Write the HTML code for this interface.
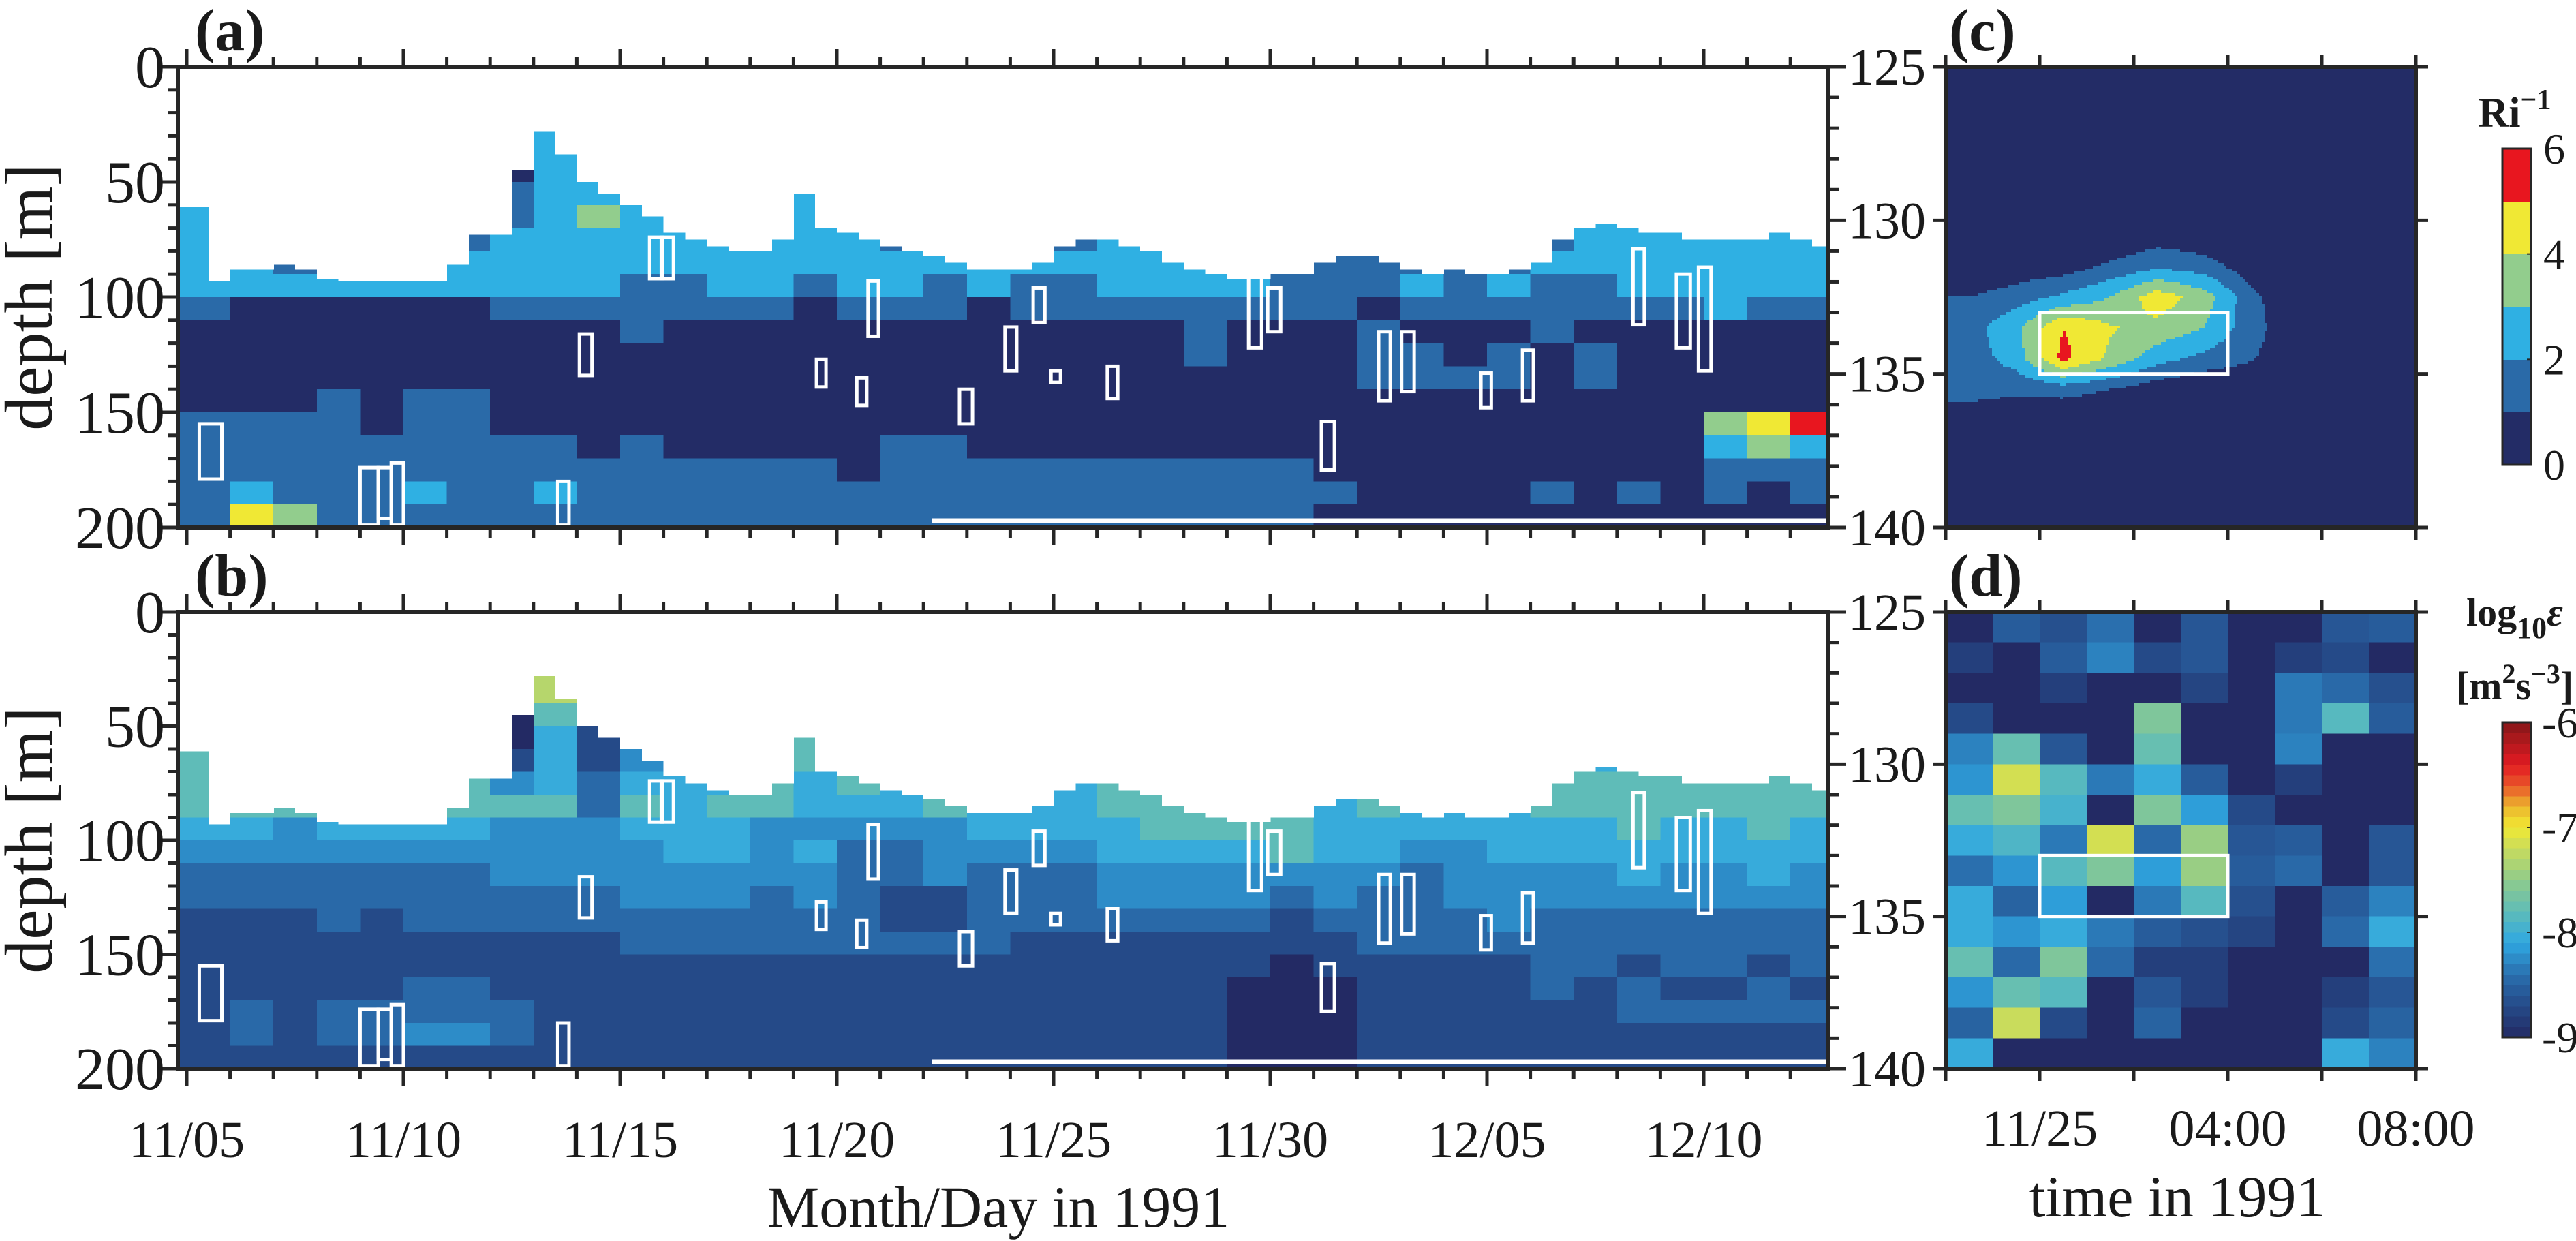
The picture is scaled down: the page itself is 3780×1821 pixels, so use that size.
<!DOCTYPE html>
<html><head><meta charset="utf-8"><style>
html,body{margin:0;padding:0;background:#fff;}
svg{display:block;font-family:"Liberation Serif",serif;}
</style></head><body>
<svg id="fig" xmlns="http://www.w3.org/2000/svg" width="3780" height="1821" viewBox="0 0 3780 1821"></svg>
<script>
// ---------- DATA ----------
// Panel (a): Ri^-1 band index (0..5) per day column (Nov05..Dec12) x 10 m depth rows (0..200 m)
const riRows = [
"00000000000000000000000000000000000000",
"00000000000000000000000000000000000000",
"00000000210000100000000000000000000001",
"00000000221000100000000000000000000001",
"00000000222100100000000000000000000001",
"10000001222110200000000000000000110011",
"21000001232210210000000000000001222121",
"22111112222222221111122211000001222222",
"22122222222222222222222222111112222222",
"22222222221122122121122221112121122222",
"10000001111111011101111111101111111211",
"00000000001000000000000100010001000000",
"00000000000000000000000100011010100000",
"00000000000000000000000000011110100000",
"00010110000000000000000000000000000000",
"11110110000000000000000000000000000345",
"11111111101000001100000000000000000232",
"11111111111111101111111111000000000111",
"12111211211111111111111111100001010101",
"14311111111111111111111111000000000000"];
// Panel (b): log10(epsilon) class per day x 10 m (decoded with epsClassValue)
const epsRows = [
"00000000000000000000000000000000000000",
"00000000500000000000000000000000000000",
"00000000632000400000000000000000000003",
"00000000613000500000000000000000000003",
"00000000512300400000000000000000000004",
"40000000412344530000000000000000440044",
"55000001413444544000000000000004454545",
"55454453424445454444454544000015555555",
"55555555525455444544455555454445555555",
"44344443334443333344445555444444454454",
"33333333333443422333344445443344444444",
"22222223333333322322233333332333343343",
"22222222223332321122233332322333333333",
"11121222222222221122222221222232222222",
"11111111112222222221111111122222222222",
"11111111111111111111111110111112212212",
"11111221111111111111111100011112121121",
"12122222111111111111111100011111122222",
"12122332111111111111111100011111111111",
"11111111111111111111111100011111111111"];
const epsClassValue = [-9.0,-8.7,-8.45,-8.25,-8.05,-7.8,-7.3,-7.0,-6.6,-6.3];
// Upper edge of data coverage (m), every half day from Nov 05 00:00
const coverTop = [61,93,88,88,86,88,92,93,93,93,93,93,86,73,73,45,28,38,50,55,60,65,72,75,78,80,80,75,55,70,72,75,78,80,82,85,88,88,88,85,78,75,75,78,80,85,88,90,92,92,90,90,
85,82,82,85,88,90,88,90,90,88,85,75,70,68,70,72,72,75,75,75,75,72,75,78];
// Event boxes: start day, end day (days after Nov 05), top depth, bottom depth
const boxStart = [0.29,4.0,4.42,4.72,8.56,9.06,10.68,10.95,14.53,15.46,15.72,17.83,18.88,19.53,19.94,21.24,24.5,24.94,26.18,27.5,28.03,29.86,30.82,33.37,34.37,34.88];
const boxEnd   = [0.81,4.42,4.72,5.0,8.82,9.35,10.98,11.23,14.75,15.69,15.96,18.13,19.15,19.8,20.16,21.48,24.8,25.24,26.48,27.77,28.32,30.1,31.07,33.63,34.69,35.17];
const boxTop   = [155,174,174,172,180,116,74,74,127,135,93,140,113,96,132,130,86,96,154,115,115,133,123,79,90,87];
const boxBot   = [179,199,196,199,199,134,92,92,139,147,117,155,132,111,137,144,122,115,175,145,141,148,145,112,122,132];
const dateLabels = ["11/05","11/10","11/15","11/20","11/25","11/30","12/05","12/10"];
const dateLabelDays = [0,5,10,15,20,25,30,35];
const depthLabels = [0,50,100,150,200];
const zoomDepthLabels = [125,130,135,140];
// Panel (c): Ri^-1 at hourly x 1 m nodes (hours from 22:00, depths 125.5..139.5)
const riZoom = [
[0,0,0,0,0,0,0,0,0,0],[0,0,0,0,0,0,0,0,0,0],[0,0,0,0,0,0,0,0,0,0],
[0,0,0,0,0,0,0,0,0,0],[0,0,0,0,0,0,0,0,0,0],
[0,0,0,0,0.5,0.2,0,0,0,0],
[0,0.3,0.5,1.2,1.8,1.5,0.4,0,0,0],
[1.0,1.5,2.2,3.0,4.6,3.5,1.3,0,0,0],
[1.6,2.8,5.0,4.1,3.7,3.0,1.4,0.2,0,0],
[1.4,2.5,5.3,3.8,2.4,1.7,1.1,0.2,0,0],
[1.3,1.2,1.4,1.0,0.4,0,0,0,0,0],
[0.6,0.3,0,0,0,0,0,0,0,0],
[0,0,0,0,0,0,0,0,0,0],[0,0,0,0,0,0,0,0,0,0],[0,0,0,0,0,0,0,0,0,0]];
// Panel (d): log10 epsilon per hour x 1 m cell
const N=-9.0;
const epsZoom = [
[N,-8.55,-8.65,-8.4,N,-8.6,N,N,-8.6,-8.55],
[-8.8,N,-8.55,-8.3,-8.7,-8.6,N,-8.8,-8.7,N],
[N,N,-8.8,N,N,-8.75,N,-8.35,-8.45,-8.65],
[-8.7,N,N,N,-7.6,N,N,-8.35,-7.85,-8.55],
[-8.3,-7.75,-8.6,N,-7.75,N,N,-8.3,N,N],
[-8.2,-7.15,-7.85,-8.35,-8.05,-8.55,N,-8.8,N,N],
[-7.75,-7.6,-7.95,N,-7.6,-8.15,-8.7,N,N,N],
[-8.05,-7.9,-8.35,-7.15,-8.45,-7.45,-8.6,-8.55,N,-8.6],
[-8.4,-8.2,-7.85,-7.6,-8.15,-7.45,-8.55,-8.45,N,-8.6],
[-8.05,-8.5,-8.15,N,-8.35,-7.85,-8.65,N,-8.55,-8.3],
[-8.05,-8.2,-8.05,-8.35,-8.55,-8.65,-8.75,N,-8.45,-8.05],
[-7.75,-8.45,-7.6,-8.45,-8.8,-8.8,N,N,N,-8.4],
[-8.2,-7.75,-7.85,N,-8.6,-8.8,N,N,-8.8,-8.6],
[-8.5,-7.2,-8.7,N,-8.5,N,N,N,-8.7,-8.5],
[-8.05,N,N,N,N,N,N,N,-8.05,-8.3]];
const zoomTimeLabels = ["11/25","04:00","08:00"];
const zoomTimeLabelHours = [2,6,10];
const zoomBox = [2,6,133,135];
const riTicks = [0,2,4,6];
const epsTicks = [-9,-8,-7,-6];

// ---------- STYLE / GEOMETRY ----------
const NS="http://www.w3.org/2000/svg";
const svg=document.getElementById('fig');
const AX='#262626';
const riColors=['#232c66','#2a6aa8','#2fb0e3','#92cd8d','#f0e834','#e8161f'];
const epsStops=[[-9,'#232a64'],[-8.7,'#254a88'],[-8.4,'#2a6fae'],[-8.1,'#2fa8e2'],[-7.8,'#5fbcb8'],[-7.5,'#8fcb8c'],[-7.2,'#c9dc5c'],[-7.0,'#f1e933'],[-6.8,'#ecb52e'],[-6.6,'#e9572a'],[-6.4,'#e21b22'],[-6.0,'#861719']];
function hex(c){return [parseInt(c.substr(1,2),16),parseInt(c.substr(3,2),16),parseInt(c.substr(5,2),16)];}
function epsColor(v){
  if(v<=epsStops[0][0])return epsStops[0][1];
  for(let i=1;i<epsStops.length;i++){
    if(v<=epsStops[i][0]){
      const a=hex(epsStops[i-1][1]),b=hex(epsStops[i][1]);
      const t=(v-epsStops[i-1][0])/(epsStops[i][0]-epsStops[i-1][0]);
      return 'rgb('+a.map((x,k)=>Math.round(x+(b[k]-x)*t)).join(',')+')';
    }
  }
  return epsStops[epsStops.length-1][1];
}
function mk(tag,attrs,parent){const e=document.createElementNS(NS,tag);for(const k in attrs)e.setAttribute(k,attrs[k]);(parent||svg).appendChild(e);return e;}

const P={a:{x0:261,x1:2683,y0:98,y1:774},b:{x0:261,x1:2683,y0:898,y1:1568},
         c:{x0:2855,x1:3545,y0:98,y1:774},d:{x0:2855,x1:3545,y0:898,y1:1568}};
function xDay(p,d){return 274+d*63.6;}
function yDepth(p,z){return p.y0+(z/200)*(p.y1-p.y0);}
function xHour(p,h){return p.x0+(h/10)*(p.x1-p.x0);}
function yZ(p,z){return p.y0+((z-125)/15)*(p.y1-p.y0);}
function clampX(p,x){return Math.max(p.x0,Math.min(p.x1,x));}

// ---------- BIG PANELS ----------
function bigPanel(key,rows,colorFn,name){
  const p=P[key];
  const g=mk('g',{'shape-rendering':'crispEdges'});
  
  
  rows.forEach((row,r)=>{
    for(let c=0;c<row.length;c++){
      let xa=c===0?p.x0:clampX(p,xDay(p,c)); let xb=clampX(p,xDay(p,c+1));
      if(c===row.length-1)xb=p.x1;
      if(xb<=xa)continue;
      const ya=yDepth(p,r*10),yb=yDepth(p,r*10+10);
      const cell=mk('rect',{x:xa,y:ya,width:xb-xa+0.6,height:yb-ya+0.6,fill:colorFn(+row[c])},g);
      
      
    }
  });
  coverTop.forEach((z,i)=>{
    let xa=i===0?p.x0:clampX(p,xDay(p,i*0.5)); let xb=clampX(p,xDay(p,i*0.5+0.5));
    if(i===coverTop.length-1)xb=p.x1;
    if(xb<=xa)return;
    const w=mk('rect',{x:xa,y:p.y0,width:xb-xa+0.6,height:yDepth(p,z)-p.y0,fill:'#fff'},g);
    
    
  });
  const strip=mk('rect',{x:xDay(p,17.2),y:yDepth(p,196),width:p.x1-xDay(p,17.2),height:yDepth(p,198)-yDepth(p,196),fill:'#fff'},g);
  
  
  boxStart.forEach((s,i)=>{
    const bx=mk('rect',{x:xDay(p,s),y:yDepth(p,boxTop[i]),width:xDay(p,boxEnd[i])-xDay(p,s),height:yDepth(p,boxBot[i])-yDepth(p,boxTop[i]),fill:'none',stroke:'#fff','stroke-width':5},svg);
    
    
  });
}
bigPanel('a',riRows,v=>riColors[Math.min(5,v)],'ri-heatmap');
bigPanel('b',epsRows,v=>epsColor(epsClassValue[v]),'epsilon-heatmap');

// ---------- ZOOM PANEL (c) ----------
(function(){
  const p=P.c;const g=mk('g',{'shape-rendering':'crispEdges'});
  
  
  const step=4;
  function val(h,z){
    let gx=Math.max(0,Math.min(9,h-0.5)),gy=Math.max(0,Math.min(14,z-125.5));
    const i=Math.min(8,Math.floor(gx)),j=Math.min(13,Math.floor(gy));const tx=gx-i,ty=gy-j;
    const a=riZoom[j][i],b=riZoom[j][i+1],c=riZoom[j+1][i],d=riZoom[j+1][i+1];
    return a*(1-tx)*(1-ty)+b*tx*(1-ty)+c*(1-tx)*ty+d*tx*ty;
  }
  for(let y=p.y0;y<p.y1;y+=step){
    const z=125+(y+step/2-p.y0)/(p.y1-p.y0)*15;
    let runStart=p.x0,runBand=-1;
    for(let x=p.x0;;x+=step){
      const xe=Math.min(x,p.x1);
      let band=-2;
      if(x<p.x1){const h=(x+step/2-p.x0)/(p.x1-p.x0)*10;band=Math.max(0,Math.min(5,Math.floor(val(h,z))));}
      if(band!==runBand){
        if(runBand>=0){const r=mk('rect',{x:runStart,y:y,width:xe-runStart+0.5,height:Math.min(step,p.y1-y)+0.5,fill:riColors[runBand]},g);
          
          }
        runStart=xe;runBand=band;
      }
      if(x>=p.x1)break;
    }
  }
})();
// ---------- ZOOM PANEL (d) ----------
(function(){
  const p=P.d;const g=mk('g',{'shape-rendering':'crispEdges'});
  
  
  epsZoom.forEach((row,j)=>row.forEach((v,i)=>{
    const r=mk('rect',{x:xHour(p,i),y:yZ(p,125+j),width:xHour(p,i+1)-xHour(p,i)+0.6,height:yZ(p,126+j)-yZ(p,125+j)+0.6,fill:epsColor(v)},g);
    
    
  }));
})();
['c','d'].forEach(k=>{const p=P[k];
  const b=mk('rect',{x:xHour(p,zoomBox[0]),y:yZ(p,zoomBox[2]),width:xHour(p,zoomBox[1])-xHour(p,zoomBox[0]),height:yZ(p,zoomBox[3])-yZ(p,zoomBox[2]),fill:'none',stroke:'#fff','stroke-width':5});
  
  
});

// ---------- AXES ----------
function line(x1,y1,x2,y2,w){const l=mk('line',{x1:x1,y1:y1,x2:x2,y2:y2,stroke:AX,'stroke-width':w||5});
  
  return l;}
function text(s,x,y,size,anchor,extra){const t=mk('text',Object.assign({x:x,y:y,'font-size':size,'text-anchor':anchor||'middle',fill:'#1a1a1a'},extra||{}));t.textContent=s;return t;}
['a','b'].forEach(k=>{const p=P[k];
  for(let d=0;d<=37;d++){const x=xDay(p,d);const L=d%5===0?26:15;line(x,p.y0,x,p.y0-L,5);line(x,p.y1,x,p.y1+L,5);}
  for(let z=0;z<=200;z+=10){const y=yDepth(p,z);const L=z%50===0?26:15;line(p.x0,y,p.x0-L,y,5);}
  for(let z=125;z<=140;z++){const y=yZ(p,z);const L=z%5===0?26:15;line(p.x1,y,p.x1+L,y,5);}
  const fr=mk('rect',{x:p.x0,y:p.y0,width:p.x1-p.x0,height:p.y1-p.y0,fill:'none',stroke:AX,'stroke-width':6});
  
  
  depthLabels.forEach(z=>{const t=text(String(z),242,yDepth(p,z)+30,88,'end');
    
    });
  zoomDepthLabels.forEach(z=>{const t=text(String(z),2712,yZ(p,z)+26,76,'start');
    
    });
  const yt=text('depth [m]',0,0,100,'middle',{transform:'translate(76,'+((p.y0+p.y1)/2)+') rotate(-90)'});
  
  
  const pl=text('('+k+')',286,p.y0-24,88,'start',{'font-weight':'bold'});
  
  
});
dateLabels.forEach((s,i)=>{const t=text(s,xDay(P.b,dateLabelDays[i]),1698,76);
  
  });
const xt=text('Month/Day in 1991',1465,1800,86);



['c','d'].forEach(k=>{const p=P[k];
  for(let h=0;h<=10;h+=2){const x=xHour(p,h);line(x,p.y0,x,p.y0-18,5);line(x,p.y1,x,p.y1+18,5);}
  for(let z=125;z<=140;z+=5){const y=yZ(p,z);line(p.x0,y,p.x0-18,y,5);line(p.x1,y,p.x1+18,y,5);}
  const fr=mk('rect',{x:p.x0,y:p.y0,width:p.x1-p.x0,height:p.y1-p.y0,fill:'none',stroke:AX,'stroke-width':6});
  
  
  const pl=text('('+k+')',2860,p.y0-24,88,'start',{'font-weight':'bold'});
  
  
});
zoomTimeLabels.forEach((s,i)=>{const t=text(s,xHour(P.d,zoomTimeLabelHours[i]),1681,76);
  
  });
const xt2=text('time in 1991',3195,1785,86);



// ---------- COLORBARS ----------
(function(){
  const x=3672,w=42,top=218,bot=682;
  riColors.forEach((c,i)=>{const y1=bot-(i+1)*(bot-top)/6;const r=mk('rect',{x:x,y:y1,width:w,height:(bot-top)/6+0.5,fill:c,'shape-rendering':'crispEdges'});
    
    });
  const f=mk('rect',{x:x,y:top,width:w,height:bot-top,fill:'none',stroke:AX,'stroke-width':3});
  
  
  riTicks.forEach(v=>{const y=bot-v/6*(bot-top);line(x+w-6,y,x+w,y,2);const t=text(String(v),3732,y+22,64,'start');
    
    });
  const tt=mk('text',{x:3690,y:186,'font-size':62,'font-weight':'bold','text-anchor':'middle',fill:'#1a1a1a'});
  tt.innerHTML='Ri<tspan dy="-26" font-size="42">−1</tspan>';
  
  
})();
(function(){
  const x=3672,w=42,top=1060,bot=1522,n=30;
  for(let i=0;i<n;i++){const v=-9+(i+0.5)*3/n;const y1=bot-(i+1)*(bot-top)/n;
    const r=mk('rect',{x:x,y:y1,width:w,height:(bot-top)/n+0.5,fill:epsColor(v),'shape-rendering':'crispEdges'});
    
    }
  const f=mk('rect',{x:x,y:top,width:w,height:bot-top,fill:'none',stroke:AX,'stroke-width':3});
  
  
  epsTicks.forEach(v=>{const y=bot-(v+9)/3*(bot-top);line(x+w-6,y,x+w,y,2);const t=text(String(v),3730,y+22,64,'start');
    
    });
  const t1=mk('text',{x:3690,y:918,'font-size':58,'font-weight':'bold','text-anchor':'middle',fill:'#1a1a1a'});
  t1.innerHTML='log<tspan dy="18" font-size="44">10</tspan><tspan dy="-18" font-style="italic">ε</tspan>';
  
  
  const t2=mk('text',{x:3690,y:1026,'font-size':58,'font-weight':'bold','text-anchor':'middle',fill:'#1a1a1a'});
  t2.innerHTML='[m<tspan dy="-24" font-size="40">2</tspan><tspan dy="24">s</tspan><tspan dy="-24" font-size="40">−3</tspan><tspan dy="24">]</tspan>';
  
  
})();
</script>
</body></html>
